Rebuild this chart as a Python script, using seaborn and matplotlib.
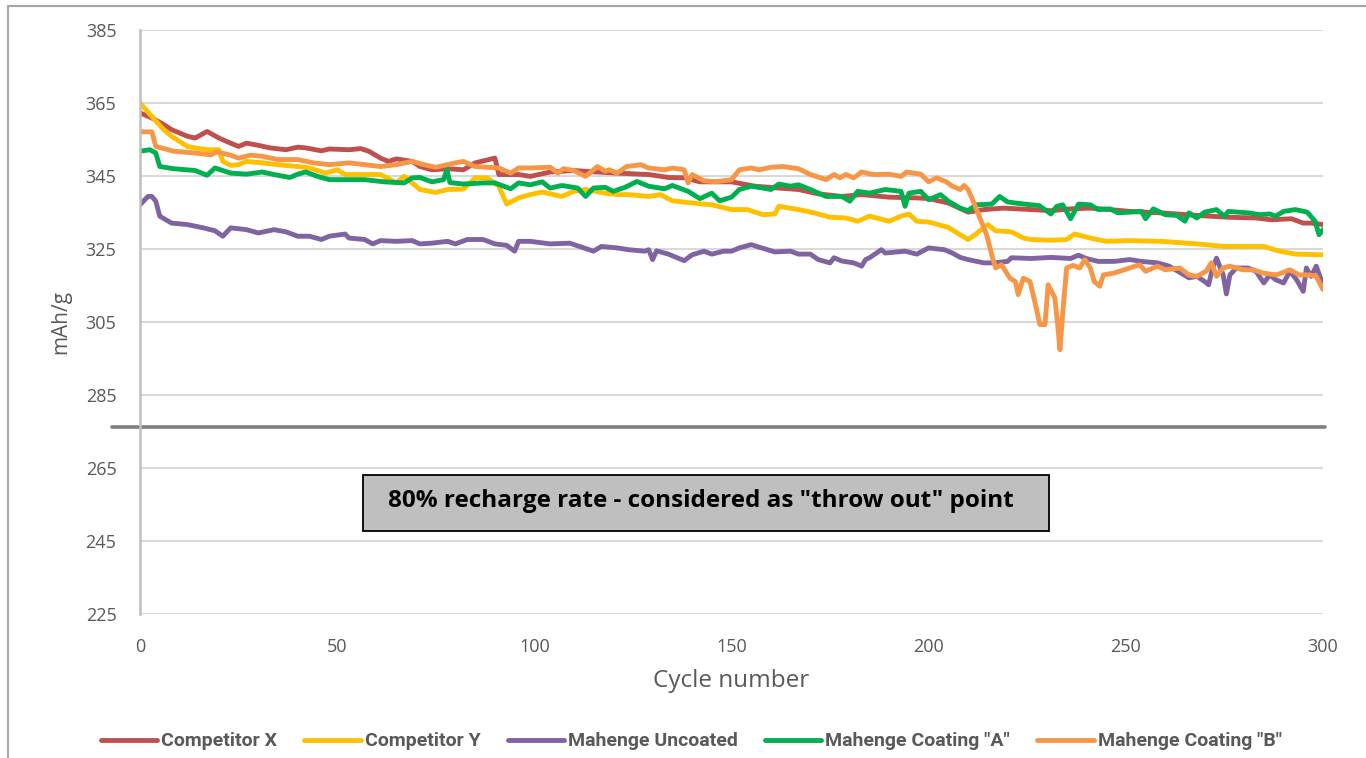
import pandas as pd
import numpy as np
import seaborn as sns
import matplotlib.pyplot as plt
from matplotlib.patches import Rectangle
from matplotlib.lines import Line2D

# series + colours
series = ['Competitor X', 'Competitor Y', 'Mahenge Uncoated', 'Mahenge Coating "A"', 'Mahenge Coating "B"']
colors = ['#C0504D', '#FFC000', '#8064A2', '#00B050', '#F79646']

compx_cycle = [0, 3, 6, 8, 12, 14, 17, 20, 23, 25, 27, 30, 33, 37, 40, 42, 46, 48, 53, 56,
               58, 61, 63, 65, 69, 71, 74, 78, 82, 85, 90, 91, 96, 99, 104, 110, 116, 121, 129, 134,
               138, 142, 150, 156, 162, 167, 172, 178, 183, 190, 197, 200, 205, 210, 214, 219, 226, 231, 236, 241,
               246, 251, 259, 268, 276, 283, 287, 292, 295, 297, 300]
compx_cap = [362.3, 360.9, 359.1, 357.7, 355.9, 355.4, 357.2, 355.4, 354.0, 353.1, 354.0, 353.4, 352.7, 352.2, 352.9, 352.7, 351.9, 352.4, 352.2, 352.5,
             351.8, 349.9, 349.0, 349.7, 349.0, 347.6, 346.7, 347.0, 346.7, 348.6, 349.9, 345.4, 345.4, 344.9, 346.1, 346.5, 346.1, 345.8, 345.4, 344.6,
             344.5, 343.4, 343.4, 342.2, 341.7, 341.3, 340.1, 339.4, 339.9, 339.2, 339.0, 338.8, 337.6, 335.1, 335.8, 336.2, 335.8, 335.5, 336.0, 336.2,
             335.8, 335.3, 334.9, 334.2, 333.7, 333.5, 333.0, 333.3, 332.1, 332.1, 331.7]

compy_cycle = [0, 3, 6, 8, 12, 14, 17, 20, 21, 23, 25, 27, 31, 35, 40, 43, 47, 50, 52, 57,
               61, 65, 67, 71, 75, 78, 82, 85, 88, 91, 93, 96, 99, 102, 107, 110, 113, 118, 121, 124,
               129, 132, 135, 140, 145, 150, 154, 158, 161, 162, 167, 171, 175, 179, 182, 185, 190, 193, 195, 197,
               200, 205, 208, 210, 212, 215, 217, 221, 224, 226, 231, 235, 237, 241, 245, 251, 259, 268, 275, 285,
               289, 293, 300]
compy_cap = [365.0, 361.3, 357.7, 355.9, 353.1, 352.7, 352.2, 352.2, 349.0, 347.9, 348.1, 349.0, 348.6, 348.1, 347.6, 347.2, 345.8, 346.7, 345.4, 345.4,
             345.4, 343.1, 344.9, 341.3, 340.5, 341.3, 341.4, 344.5, 344.5, 342.2, 337.3, 339.0, 339.9, 340.6, 339.4, 340.8, 341.3, 340.3, 339.9, 339.9,
             339.4, 339.9, 338.2, 337.6, 337.1, 335.8, 335.8, 334.4, 334.6, 336.7, 335.8, 334.9, 333.7, 333.5, 332.6, 334.0, 332.6, 334.0, 334.6, 332.6,
             332.4, 330.9, 328.9, 327.6, 329.1, 331.7, 330.0, 329.7, 328.0, 327.6, 327.4, 327.6, 329.1, 328.0, 327.1, 327.3, 327.1, 326.4, 325.7, 325.7,
             324.4, 323.6, 323.4]

uncoated_cycle = [0, 2, 3, 4, 5, 8, 12, 16, 19, 21, 23, 27, 30, 34, 37, 40, 43, 46, 48, 52,
                  53, 57, 59, 61, 65, 69, 71, 74, 78, 80, 83, 87, 90, 93, 95, 96, 99, 104, 109, 112,
                  115, 117, 121, 124, 128, 129, 130, 131, 134, 138, 140, 143, 145, 148, 150, 152, 155, 157, 161, 165,
                  167, 170, 172, 175, 176, 178, 181, 183, 184, 185, 188, 189, 194, 197, 200, 204, 206, 208, 210, 214,
                  216, 220, 221, 226, 231, 236, 238, 240, 243, 247, 251, 254, 258, 261, 264, 266, 268, 270, 271, 272,
                  273, 274.7, 275.5, 276.4, 278, 281, 283, 285, 286.5, 288, 290, 291.6, 293.3, 295, 295.8, 297, 298.3, 300]
uncoated_cap = [337.1, 339.4, 339.4, 338.1, 334.0, 332.1, 331.7, 330.8, 330.0, 328.5, 330.8, 330.3, 329.4, 330.3, 329.7, 328.5, 328.5, 327.6, 328.5, 329.1,
                328.0, 327.6, 326.4, 327.3, 327.1, 327.3, 326.4, 326.6, 327.1, 326.4, 327.6, 327.6, 326.4, 326.0, 324.4, 327.1, 327.1, 326.4, 326.6, 325.5,
                324.4, 325.7, 325.3, 324.8, 324.4, 324.8, 322.1, 324.5, 323.6, 321.8, 323.4, 324.4, 323.6, 324.4, 324.4, 325.3, 326.2, 325.5, 324.2, 324.4,
                323.6, 323.6, 322.1, 321.2, 322.6, 321.7, 321.2, 320.3, 322.1, 322.6, 324.8, 323.9, 324.4, 323.6, 325.3, 324.8, 323.9, 322.7, 322.1, 321.2,
                321.2, 321.6, 322.6, 322.4, 322.7, 322.4, 323.3, 322.4, 321.6, 321.6, 322.1, 321.6, 321.2, 320.3, 318.4, 317.1, 317.5, 316.1, 315.2, 319.8,
                322.5, 317.9, 312.7, 317.9, 319.8, 319.8, 318.9, 315.7, 317.9, 316.6, 315.7, 318.9, 316.6, 313.4, 319.8, 317.5, 320.3, 315.2]

coat_a_cycle = [0, 2.5, 4, 5, 8.5, 14, 17, 19, 23, 27, 31, 34, 38, 40, 42, 45, 48, 57, 62, 67,
                69, 71, 74, 77, 77.8, 78.6, 82, 87, 90, 94, 96, 99, 102, 104, 107, 111, 113, 115, 118, 120,
                123, 126, 129, 133, 135, 139, 142, 145, 147, 150, 152, 155, 158, 160, 162, 165, 167, 170, 174, 178,
                180, 182, 185, 189, 193, 194, 195, 198, 200, 203, 205, 208, 210, 212, 216, 218, 220, 222, 226, 228,
                231, 232.5, 234, 236, 238, 241, 243, 246, 248, 251, 254, 255, 257, 260, 263, 265, 266, 268, 270, 273,
                275, 276, 281, 284, 286.5, 288, 290, 293, 296, 298, 299, 300]
coat_a_cap = [351.8, 352.2, 351.3, 347.6, 347.0, 346.5, 345.2, 347.2, 345.8, 345.5, 346.1, 345.4, 344.6, 345.5, 346.1, 344.9, 344.0, 344.0, 343.4, 343.1,
              344.5, 344.6, 343.4, 344.0, 346.7, 343.2, 342.8, 343.1, 343.1, 341.5, 343.1, 342.6, 343.4, 341.7, 342.4, 341.7, 339.4, 341.7, 341.9, 340.8,
              341.9, 343.5, 342.2, 341.5, 342.4, 340.8, 338.8, 340.3, 338.2, 339.2, 341.3, 342.2, 341.7, 341.3, 342.8, 342.2, 342.6, 341.3, 339.4, 339.4,
              338.1, 340.8, 340.3, 341.3, 340.8, 336.7, 340.3, 340.8, 338.5, 339.9, 338.1, 336.2, 335.5, 337.1, 337.3, 339.4, 337.9, 337.6, 337.1, 336.9,
              334.6, 336.7, 337.1, 333.3, 337.3, 337.1, 335.8, 336.0, 334.9, 335.1, 335.3, 333.3, 336.0, 334.4, 334.2, 332.6, 334.9, 333.5, 335.1, 335.8,
              334.0, 335.3, 334.9, 334.4, 334.6, 334.0, 335.3, 335.8, 335.1, 332.6, 328.9, 330.3]

coat_b_cycle = [0, 3, 4, 8.5, 14, 18, 19.5, 23, 25, 28, 31, 35, 40, 44, 48, 53, 57, 61, 65, 69,
                72, 75, 80, 82, 85, 91, 94, 96, 99, 104, 106, 107.4, 110, 113, 116, 118, 119, 121, 123.4, 127,
                129, 133, 135, 138, 139, 140, 143, 146, 150, 152, 155, 157, 160, 163, 167, 170, 174, 176, 177.5, 179,
                181, 183, 186, 190, 193, 194.4, 198, 200, 202, 204.5, 206, 208, 209, 210, 211.3, 213, 214.7, 216, 217, 218.5,
                220.6, 222, 222.7, 224, 225.7, 227.3, 228.2, 229.5, 230.3, 232, 232.8, 233.3, 234.1, 235, 236.6, 238.3, 239.6, 241, 242, 243.4,
                244.3, 247, 251, 253.5, 255, 258, 260, 263.7, 266, 268, 270.4, 271.7, 273, 274.7, 276.4, 279.7, 282.3, 284.8, 288.2, 291.6,
                294, 296.6, 298.3, 300]
coat_b_cap = [357.1, 357.1, 353.1, 351.8, 351.3, 350.8, 351.6, 350.7, 349.9, 350.7, 350.4, 349.5, 349.5, 348.6, 348.1, 348.6, 348.1, 347.6, 348.1, 349.0,
              348.1, 347.4, 348.6, 349.0, 347.6, 347.2, 345.8, 347.2, 347.2, 347.4, 345.8, 347.0, 346.5, 344.9, 347.6, 346.3, 346.7, 345.8, 347.6, 348.1,
              347.2, 346.7, 347.2, 346.7, 343.1, 345.4, 343.7, 343.4, 344.0, 346.7, 347.2, 346.7, 347.4, 347.6, 347.0, 345.4, 344.0, 345.4, 344.5, 345.4,
              344.5, 346.1, 345.4, 345.5, 344.9, 346.1, 345.5, 343.4, 344.5, 343.4, 342.2, 341.3, 342.4, 341.3, 338.1, 333.5, 328.9, 323.4, 319.8, 320.7,
              317.0, 316.1, 312.5, 317.0, 316.1, 308.8, 304.3, 304.3, 315.2, 311.6, 303.4, 297.4, 308.8, 319.8, 320.5, 319.8, 322.1, 319.8, 316.1, 314.8,
              317.9, 318.4, 319.8, 320.7, 318.9, 320.3, 319.3, 319.8, 317.9, 317.5, 318.9, 321.2, 317.5, 319.8, 320.3, 319.3, 319.3, 318.4, 317.9, 319.3,
              317.9, 317.9, 317.5, 313.9]

throw_out = 276.2   # 80% recharge level
y_ticks = [225, 245, 265, 285, 305, 325, 345, 365, 385]
x_ticks = [0, 50, 100, 150, 200, 250, 300]
note = '80% recharge rate - considered as "throw out" point'

frames = []
for name, xs, ys in zip(series,
                        [compx_cycle, compy_cycle, uncoated_cycle, coat_a_cycle, coat_b_cycle],
                        [compx_cap, compy_cap, uncoated_cap, coat_a_cap, coat_b_cap]):
    frames.append(pd.DataFrame({'cycle': xs, 'cap': ys, 'series': name}))
df = pd.concat(frames, ignore_index=True)

sns.set_theme(style='white')
plt.rcParams['font.family'] = ['Open Sans', 'DejaVu Sans']

fig = plt.figure(figsize=(13.66, 7.58), dpi=100)
ax = fig.add_axes([0.1025, 0.19, 0.866, 0.7704])

sns.lineplot(data=df, x='cycle', y='cap', hue='series', hue_order=series,
             palette=colors, linewidth=3.5, estimator=None, ax=ax)

ax.set_xlim(0, 300)
ax.set_ylim(225, 385)
ax.set_yticks(y_ticks)
ax.set_xticks(x_ticks)
ax.grid(axis='y', color='#D9D9D9', linewidth=1.5)
ax.set_axisbelow(True)
for s in ['top', 'right', 'bottom']:
    ax.spines[s].set_visible(False)
ax.spines['left'].set_color('#BFBFBF')
ax.spines['left'].set_linewidth(1.8)
ax.tick_params(axis='y', length=0, pad=17, labelsize=13, labelcolor='#595959')
ax.tick_params(axis='x', length=0, pad=17, labelsize=13, labelcolor='#595959')
ax.set_xlabel('Cycle number', fontsize=17.5, color='#595959', labelpad=10)
ax.set_ylabel('mAh/g', fontsize=15, color='#595959', labelpad=10)

# 80% line, runs a bit into the label area
ax.axhline(throw_out, xmin=-0.024, xmax=1.002, color='#7F7F7F', linewidth=2.6, clip_on=False)

# note box
ax.add_patch(Rectangle((0.1885, 0.1421), 0.58, 0.096, transform=ax.transAxes,
                       facecolor='#BFBFBF', edgecolor='black', linewidth=1.3, zorder=5))
ax.text(0.474, 0.193, note, transform=ax.transAxes, ha='center', va='center',
        fontsize=17.5, fontweight='bold', color='black', zorder=6)

# legend at bottom of figure
handles, labels = ax.get_legend_handles_labels()
ax.get_legend().remove()
leg = fig.legend(handles, labels, loc='center', bbox_to_anchor=(0.506, 0.022), ncol=5,
                 frameon=False, handlelength=2.9, handletextpad=0.2, columnspacing=1.4,
                 prop={'family': 'Roboto', 'weight': 'bold', 'size': 14})
for t in leg.get_texts():
    t.set_color('#595959')
for l in leg.get_lines():
    l.set_linewidth(3.5)

# outer frame
fig.add_artist(Line2D([8 / 1366, 8 / 1366], [0, 1 - 6 / 758], color='#A6A6A6', linewidth=1.5))
fig.add_artist(Line2D([8 / 1366, 1], [1 - 6 / 758, 1 - 6 / 758], color='#A6A6A6', linewidth=1.5))

fig.savefig('out.png', dpi=100)
